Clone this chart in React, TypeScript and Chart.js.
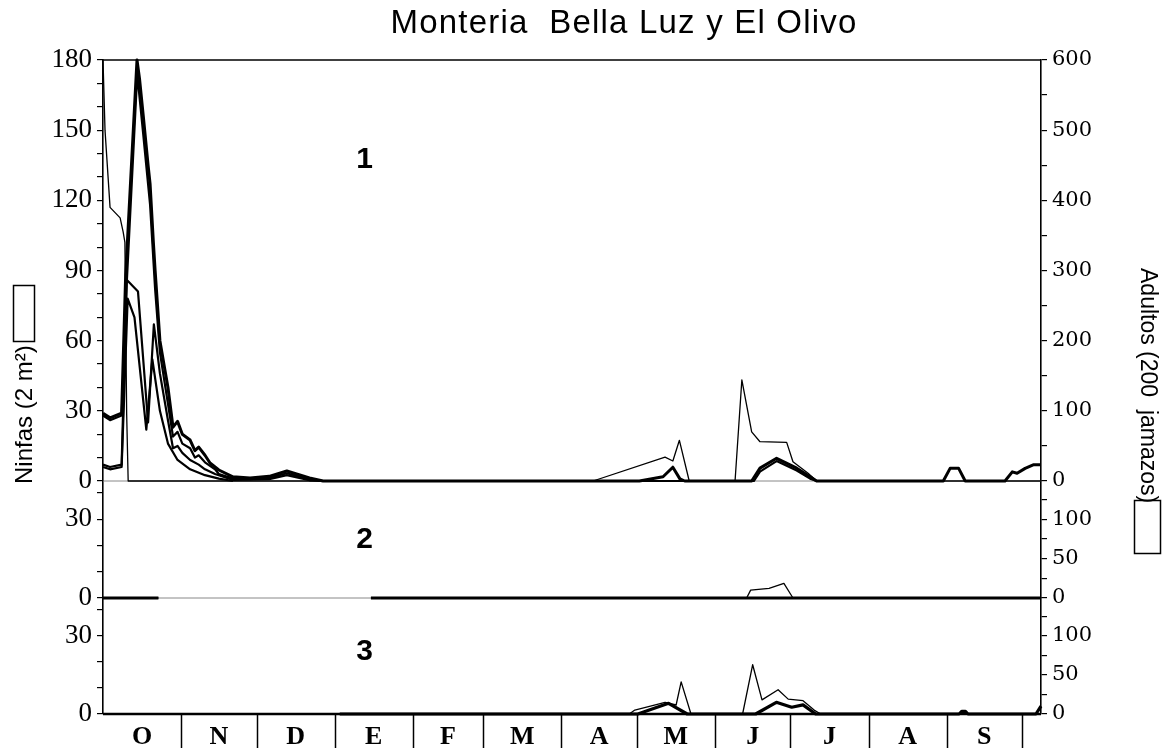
import React, { useEffect, useRef } from "react";
import { Chart, registerables } from "chart.js";

Chart.register(...registerables);

type Pt = [number, number | null];

// ---------- text ----------
const chartTitle = "Monteria  Bella Luz y El Olivo";
const leftTitle = "Ninfas (2 m²)";
const rightTitle = "Adultos (200  jamazos)";
const panelTitles = ["1", "2", "3"];

// ---------- x axis (days from 1 October) ----------
const monthLabels = ["O", "N", "D", "E", "F", "M", "A", "M", "J", "J", "A", "S"];
const monthBoundaries = [0, 31, 61, 92, 123, 151, 182, 212, 243, 273, 304, 335, 365];
const dayMax = 372.5;

// ---------- y axes per panel ----------
const leftMax = [180, 44.5, 44.5];
const rightMax = [600, 148.3, 148.3];
const leftLabelStep = [30, 30, 30];
const rightLabelStep = [100, 50, 50];
const leftMinorStep = [10, 10, 10];
const rightMinorStep = [50, 25, 25];
const panelWeights = [421, 117, 116];

// ---------- panel 1 ----------
const adults1: Pt[] = [
  [0, 600], [0.8, 500], [2.8, 390], [6.8, 375], [8, 355], [8.7, 340], [9.4, 95],
  [10, 0], [194.6, 0], [223.2, 34], [226.3, 28.5], [228.9, 58], [232.8, 0], [251, 0],
  [253.7, 144], [257.6, 70], [260.9, 56], [271.5, 55], [274, 27.5], [280, 11],
  [283.4, 0], [dayMax, 0],
];
const nymphs1Total: Pt[] = [
  [0, 29], [2.8, 27], [7.4, 29], [9.0, 88], [13.5, 180], [14.5, 172], [16, 156],
  [17.9, 135], [18.7, 127], [20, 102], [20.7, 90], [22.6, 60], [24.5, 48], [25.8, 40],
  [27.8, 23], [29.6, 25.5], [31.5, 20], [34.6, 17.5], [36.5, 13], [38, 14.5],
  [40.5, 11], [42.5, 7.7], [46, 4.7], [51.6, 1.8], [58.4, 1.3], [66, 2], [73, 4.3],
  [82, 1.3], [87.4, 0], [213, 0], [222.4, 1.8], [226.3, 5.9], [229.1, 0.9], [231, 0],
  [257.6, 0], [260.9, 5.5], [267.5, 9.7], [275.5, 5.5], [280.8, 1.8], [283.4, 0],
  [333.7, 0], [336.4, 5.4], [339.8, 5.4], [342.4, 0], [358.2, 0], [361.1, 3.9],
  [363, 3.3], [366.2, 5.4], [369.4, 6.9], [dayMax, 6.9],
];
const nymphs1B: Pt[] = [
  [0, 28], [2.8, 26], [7.4, 28], [9.4, 84], [13.6, 174], [16, 148], [18.7, 118],
  [20.7, 82], [22.6, 55], [25.8, 33], [27.8, 19], [29.6, 21], [31.5, 16], [34.6, 14],
  [36.5, 10], [38, 11], [40.5, 8], [44.5, 5], [46, 3], [51.6, 1], [58.4, 0.8],
  [66, 1.3], [73, 3.3], [82, 0.6], [87.4, 0], [258.5, 0], [260.9, 4], [267.5, 8.5],
  [275.5, 4.5], [280.8, 1], [283.4, 0],
];
const nymphs1C: Pt[] = [
  [0, 7], [2.8, 6], [7.4, 7], [9.4, 86], [13.9, 81], [17.9, 25], [20.2, 67],
  [22.6, 46], [25.8, 26], [27.8, 14], [29.6, 15], [31.5, 12], [34.6, 9], [38, 7],
  [40.5, 5], [44.5, 3], [51.6, 0.5], [66, 0.8], [73, 2.5], [82, 0.3], [87.4, 0],
];
const nymphs1D: Pt[] = [
  [0, 6], [2.8, 5], [7.4, 6], [9.8, 78], [12.5, 70], [17.2, 22], [19.6, 52],
  [22.6, 30], [25.8, 16], [29.6, 9], [34.6, 5], [40.5, 2.5], [46, 1], [51.6, 0],
];

// ---------- panel 2 ----------
const adults2: Pt[] = [
  [0, 0], [22, 0], [60, null], [106.4, 0], [255.6, 0], [257.2, 10], [264.5, 12.3],
  [270.4, 18.5], [274, 0], [dayMax, 0],
];
const nymphs2: Pt[] = [[0, 0], [22, 0], [60, null], [106.4, 0], [dayMax, 0]];

// ---------- panel 3 ----------
const adults3: Pt[] = [
  [94, 0], [209, 0], [211.2, 5], [223.2, 15], [227.6, 11.5], [229.6, 41], [233.5, 0],
  [254, 0], [258, 63], [261.7, 18], [268.1, 31], [272.1, 19], [278, 17], [282.4, 5],
  [285, 0], [dayMax, 0],
];
const nymphs3: Pt[] = [
  [94, 0], [212.4, 0], [224.6, 4.1], [232, 0], [259.2, 0], [267.4, 4.5], [273.5, 2.6],
  [278, 3.5], [283, 0], [340, 0], [341, 1], [342.5, 1], [343.5, 0], [370.5, 0],
  [dayMax, 3],
];

const toPts = (arr: Pt[]) => arr.map(([x, y]) => ({ x, y }));

function line(data: Pt[], axis: string, width: number) {
  return {
    data: toPts(data),
    yAxisID: axis,
    borderColor: "#000",
    backgroundColor: "#000",
    borderWidth: width,
    pointRadius: 0,
    tension: 0,
    fill: false,
    spanGaps: false,
    clip: false,
    borderJoinStyle: "round" as const,
  };
}

function yAxis(side: "left" | "right", i: number) {
  const max = side === "left" ? leftMax[i] : rightMax[i];
  const minor = side === "left" ? leftMinorStep[i] : rightMinorStep[i];
  const labelStep = side === "left" ? leftLabelStep[i] : rightLabelStep[i];
  const weight = side === "left" ? 3 - i : i + 1;
  return {
    type: "linear" as const,
    position: side,
    stack: side,
    stackWeight: panelWeights[i],
    weight,
    min: 0,
    max,
    ticks: {
      stepSize: minor,
      includeBounds: false,
      autoSkip: false,
      maxRotation: 0,
      padding: 5,
      color: "#000",
      font:
        side === "left"
          ? { family: "'Liberation Serif'", size: 27 }
          : { family: "'DejaVu Serif'", size: 21 },
      callback: (v: any) => (Math.abs(v % labelStep) < 1e-6 ? String(v) : ""),
    },
    grid: {
      drawOnChartArea: false,
      drawTicks: true,
      tickLength: 6,
      color: "#000",
      lineWidth: 1.2,
    },
    border: { display: true, color: "#000", width: 1.6 },
    afterFit: (s: any) => {
      s.width = side === "left" ? 103 : 128;
    },
  };
}

const decorPlugin = {
  id: "decor",
  beforeDatasetsDraw(chart: any) {
    const { ctx, chartArea: ca, scales } = chart;
    ctx.save();
    ctx.strokeStyle = "#888";
    ctx.lineWidth = 1;
    for (const id of ["yL1", "yL2"]) {
      const s = scales[id];
      ctx.beginPath();
      ctx.moveTo(ca.left, s.bottom);
      ctx.lineTo(ca.right, s.bottom);
      ctx.stroke();
    }
    ctx.restore();
  },
  afterDraw(chart: any) {
    const { ctx, chartArea: ca, scales } = chart;
    const x = scales.x;
    ctx.save();
    ctx.fillStyle = "#000";
    ctx.strokeStyle = "#000";

    // top frame
    ctx.lineWidth = 1.5;
    ctx.beginPath();
    ctx.moveTo(ca.left, ca.top);
    ctx.lineTo(ca.right, ca.top);
    ctx.stroke();

    // bottom line
    ctx.lineWidth = 2.5;
    ctx.beginPath();
    ctx.moveTo(ca.left, ca.bottom);
    ctx.lineTo(ca.right, ca.bottom);
    ctx.stroke();

    // month separators and labels
    ctx.lineWidth = 1.5;
    for (let i = 1; i < monthBoundaries.length; i++) {
      const px = Math.round(x.getPixelForValue(monthBoundaries[i])) + 0.5;
      ctx.beginPath();
      ctx.moveTo(px, ca.bottom);
      ctx.lineTo(px, ca.bottom + 34);
      ctx.stroke();
    }
    ctx.font = "bold 26px 'Liberation Serif'";
    ctx.textAlign = "center";
    ctx.textBaseline = "middle";
    for (let i = 0; i < monthLabels.length; i++) {
      const c = (x.getPixelForValue(monthBoundaries[i]) + x.getPixelForValue(monthBoundaries[i + 1])) / 2;
      ctx.fillText(monthLabels[i], c, ca.bottom + 23);
    }

    // panel numbers
    ctx.font = "bold 30px 'Liberation Sans'";
    const px = ca.left + (ca.right - ca.left) * 0.279;
    const p1 = scales.yL1, p2 = scales.yL2, p3 = scales.yL3;
    ctx.fillText(panelTitles[0], px, p1.top + 100);
    ctx.fillText(panelTitles[1], px, (p2.top + p2.bottom) / 2);
    ctx.fillText(panelTitles[2], px, (p3.top + p3.bottom) / 2 - 4);

    // chart title
    ctx.font = "33px 'Liberation Sans'";
    (ctx as any).letterSpacing = "1.2px";
    ctx.fillText(chartTitle, 624, 24);
    (ctx as any).letterSpacing = "0px";

    // left axis title
    ctx.font = "24px 'Liberation Sans'";
    ctx.textAlign = "left";
    ctx.save();
    ctx.translate(25, 484);
    ctx.rotate(-Math.PI / 2);
    ctx.fillText(leftTitle, 0, 0);
    ctx.restore();
    ctx.lineWidth = 1.5;
    ctx.strokeRect(13.5, 285.5, 21, 56);

    // right axis title
    ctx.font = "23px 'Liberation Sans'";
    ctx.save();
    ctx.translate(1147, 268);
    ctx.rotate(Math.PI / 2);
    ctx.fillText(rightTitle, 0, 0);
    ctx.restore();
    ctx.strokeRect(1134.5, 500.5, 26, 53);

    ctx.restore();
  },
};

export default function App() {
  const ref = useRef<HTMLCanvasElement | null>(null);

  useEffect(() => {
    document.body.style.margin = "0";
    if (!ref.current) return;
    const chart = new Chart(ref.current, {
      type: "line",
      data: {
        datasets: [
          line(adults1, "yR1", 1.3),
          line(nymphs1D, "yL1", 2.2),
          line(nymphs1C, "yL1", 2.2),
          line(nymphs1B, "yL1", 2.2),
          line(nymphs1Total, "yL1", 3),
          line(adults2, "yR2", 1.3),
          line(nymphs2, "yL2", 3.2),
          line(adults3, "yR3", 1.3),
          line(nymphs3, "yL3", 3.2),
        ] as any,
      },
      options: {
        animation: false,
        responsive: false,
        events: [],
        layout: { padding: { top: 60, bottom: 41, left: 0, right: 0 } },
        plugins: {
          legend: { display: false },
          tooltip: { enabled: false },
          title: { display: false },
        },
        scales: {
          x: { type: "linear", min: 0, max: dayMax, display: false },
          yL1: yAxis("left", 0),
          yL2: yAxis("left", 1),
          yL3: yAxis("left", 2),
          yR1: yAxis("right", 0),
          yR2: yAxis("right", 1),
          yR3: yAxis("right", 2),
        } as any,
      },
      plugins: [decorPlugin],
    });
    return () => chart.destroy();
  }, []);

  return (
    <div style={{ width: 1169, height: 755, background: "#fff" }}>
      <canvas ref={ref} width={1169} height={755} style={{ display: "block" }} />
    </div>
  );
}
